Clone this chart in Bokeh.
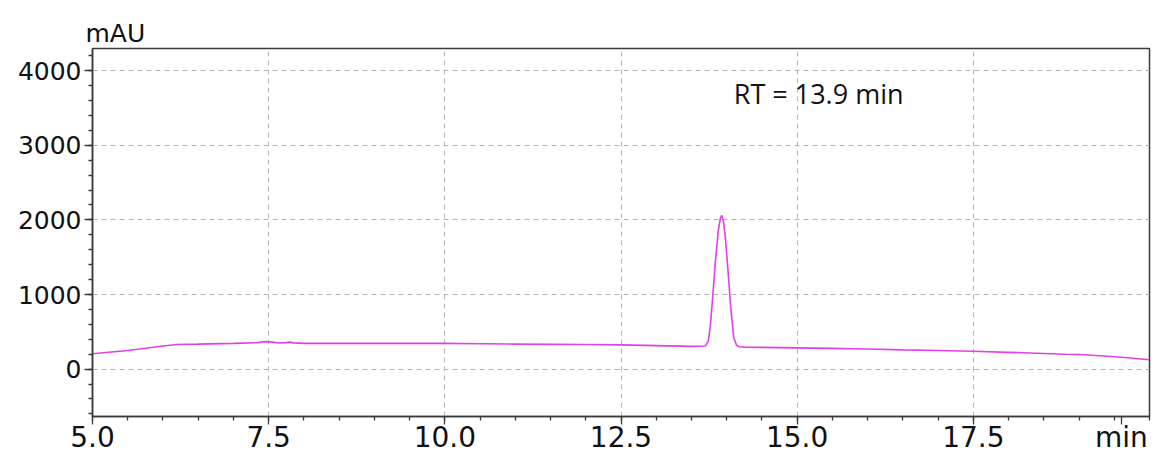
from bokeh.plotting import figure
from bokeh.models import FixedTicker, Label, Range1d
from bokeh.embed import file_html
from bokeh.resources import INLINE

# --- data ---
time_min = [5.0, 5.5, 6.0, 6.2, 6.5, 7.0, 7.35, 7.45, 7.55, 7.65, 7.75, 7.8, 7.85, 8.0,
            8.5, 9.0, 9.5, 10.0, 10.5, 11.0, 11.5, 12.0, 12.5, 13.0, 13.5, 13.7,
            13.74, 13.77, 13.8, 13.84, 13.88, 13.91, 13.93, 13.95, 13.98, 14.02,
            14.06, 14.1, 14.14, 14.18, 14.25, 14.5, 15.0, 15.5, 16.0, 16.5, 17.0,
            17.5, 18.0, 18.5, 18.8, 19.0, 19.3, 19.6, 20.0]
absorbance_mau = [205, 250, 310, 330, 335, 345, 355, 368, 362, 350, 355, 362, 352, 345,
                  345, 345, 345, 345, 340, 335, 332, 330, 325, 315, 305, 310,
                  380, 600, 950, 1450, 1850, 2020, 2060, 2000, 1780, 1300,
                  800, 420, 320, 300, 295, 292, 285, 278, 270, 258, 250,
                  240, 225, 210, 200, 195, 180, 160, 125]

y_major_ticks = [0, 1000, 2000, 3000, 4000]
x_major_ticks = [5.0, 7.5, 10.0, 12.5, 15.0, 17.5]
x_unit = "min"
x_unit_pos = 19.6
x_tick_labels = {5.0: "5.0", 7.5: "7.5", 10.0: "10.0", 12.5: "12.5", 15.0: "15.0",
                 17.5: "17.5", x_unit_pos: x_unit}
y_minor_ticks = list(range(-600, 4300, 200))
x_minor_ticks = [5.0 + 0.5 * i for i in range(31)]

annotation_text = "RT = 13.9 min"
annotation_x = 14.1
annotation_y = 3700
y_unit = "mAU"

FONT = "DejaVu Sans"
AX = "#3a3a3a"
TXT = "#111111"

p = figure(width=1154, height=457, output_backend="svg", toolbar_location=None,
           x_range=Range1d(5.0, 20.0), y_range=Range1d(-635, 4297),
           min_border_left=92, min_border_right=5, min_border_top=48, min_border_bottom=41)

p.title.text = y_unit
p.title.align = "left"
p.title.offset = -7
p.title.text_font = FONT
p.title.text_font_size = "25px"
p.title.text_font_style = "normal"
p.title.text_color = TXT
p.title.standoff = 2

p.line(time_min, absorbance_mau, line_color="#e040e6", line_width=1.6)

p.xaxis.ticker = FixedTicker(ticks=x_major_ticks + [x_unit_pos], minor_ticks=x_minor_ticks)
p.yaxis.ticker = FixedTicker(ticks=y_major_ticks, minor_ticks=y_minor_ticks)
p.xgrid.ticker = FixedTicker(ticks=x_major_ticks)
p.xaxis.major_label_overrides = x_tick_labels
for ax in (p.xaxis[0], p.yaxis[0]):
    ax.axis_line_color = AX
    ax.axis_line_width = 1.5
    ax.major_tick_line_color = AX
    ax.minor_tick_line_color = AX
    ax.major_tick_line_width = 1.3
    ax.minor_tick_line_width = 1.3
    ax.major_tick_out = 8
    ax.major_tick_in = 0
    ax.minor_tick_out = 4
    ax.minor_tick_in = 0
    ax.major_label_text_font = FONT
    ax.major_label_text_color = TXT
p.yaxis.major_label_text_font_size = "25px"
p.xaxis.major_label_text_font_size = "28px"
p.xaxis.major_label_standoff = -4
p.yaxis.major_label_standoff = 3

p.outline_line_color = AX
p.outline_line_width = 1.5

p.xgrid.grid_line_color = "#b5b5b5"
p.ygrid.grid_line_color = "#b5b5b5"
p.xgrid.grid_line_dash = "5 4"
p.ygrid.grid_line_dash = "5 4"
p.xgrid.grid_line_width = 1
p.ygrid.grid_line_width = 1

p.add_layout(Label(x=annotation_x, y=annotation_y, text=annotation_text,
                   text_font="Open Sans", text_font_size="27px",
                   text_baseline="middle", text_align="left", text_color=TXT))

open("out.html", "w").write(file_html(p, INLINE))
